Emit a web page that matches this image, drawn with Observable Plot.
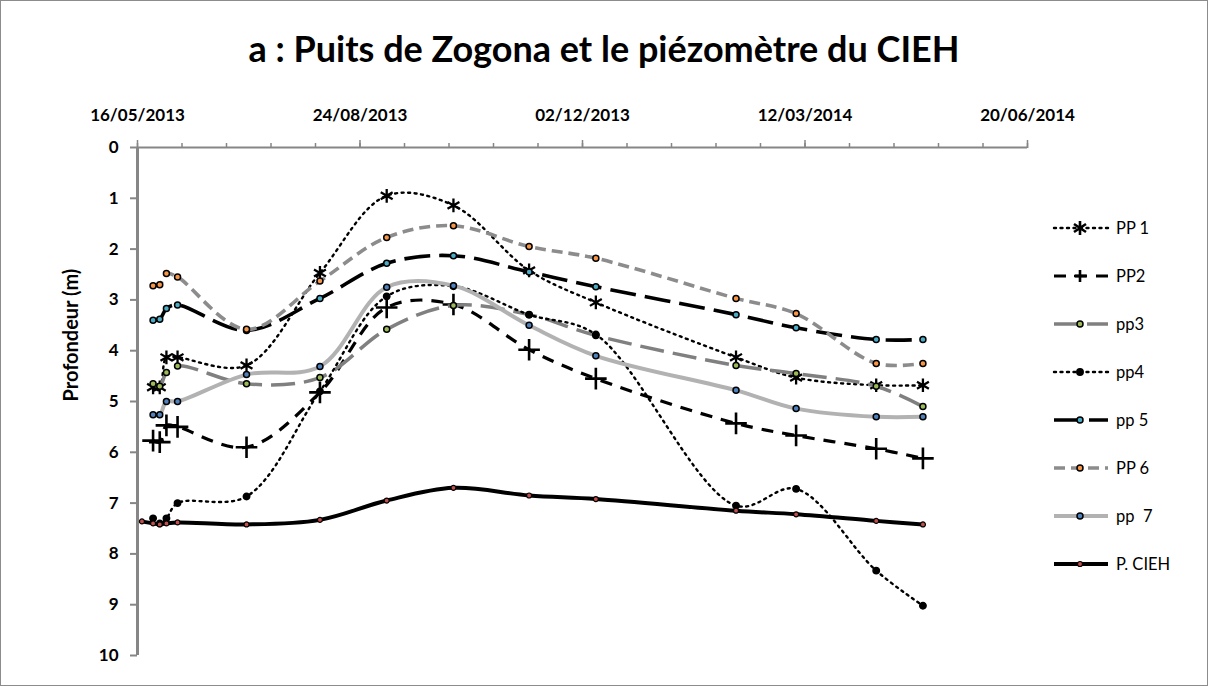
<!DOCTYPE html>
<html><head><meta charset="utf-8">
<script src="https://cdn.jsdelivr.net/npm/d3@7"></script>
<script src="https://cdn.jsdelivr.net/npm/@observablehq/plot@0.6"></script>
<style>
body{margin:0;background:#fff;font-family:Lato,"Open Sans",sans-serif;}
#frame{position:relative;width:1206px;height:684px;border:1px solid #8c8c8c;overflow:hidden;background:#fff;}
#title{height:94px;display:flex;align-items:center;justify-content:center;font-size:36px;font-weight:bold;color:#000;}
#legend{position:absolute;left:0;top:0;}
.lg{position:absolute;display:flex;align-items:center;font-size:16.5px;color:#000;}
.lg svg{margin-right:6px;}
</style></head>
<body>
<div id="frame">
  <div id="title">a : Puits de Zogona et le piézomètre du CIEH</div>
  <div id="chart"></div>
  <div id="legend"></div>
</div>
<script>
// ---- data ----
const dates = ["18/05/2013","23/05/2013","26/05/2013","29/05/2013","03/06/2013","04/07/2013","06/08/2013","05/09/2013","05/10/2013","08/11/2013","08/12/2013","09/02/2014","08/03/2014","13/04/2014","04/05/2014"];
const PP1  = [null,4.72,4.72,4.13,4.13,4.29,2.47,0.95,1.14,2.42,3.05,4.13,4.53,4.68,4.68];
const PP2  = [null,5.77,5.80,5.47,5.50,5.90,4.82,3.15,3.09,3.98,4.55,5.43,5.67,5.93,6.12];
const pp3  = [null,4.65,4.70,4.43,4.30,4.65,4.53,3.58,3.11,3.29,3.70,4.29,4.45,4.70,5.10];
const pp4  = [null,7.30,7.40,7.30,7.00,6.87,4.80,2.93,2.73,3.29,3.68,7.05,6.72,8.33,9.02];
const pp5  = [null,3.40,3.38,3.17,3.10,3.60,2.97,2.28,2.13,2.45,2.74,3.29,3.55,3.78,3.78];
const PP6  = [null,2.72,2.70,2.48,2.55,3.58,2.63,1.77,1.54,1.95,2.18,2.97,3.27,4.25,4.25];
const pp7  = [null,5.26,5.26,5.00,5.00,4.47,4.31,2.75,2.72,3.50,4.10,4.78,5.14,5.30,5.30];
const CIEH = [7.36,7.40,7.42,7.40,7.38,7.42,7.33,6.95,6.70,6.85,6.92,7.15,7.22,7.35,7.42];
const seriesNames = ["PP 1","PP2","pp3","pp4","pp 5","PP 6","pp  7","P. CIEH"];
const seriesValues = [PP1,PP2,pp3,pp4,pp5,PP6,pp7,CIEH];
const xTickLabels = ["16/05/2013","24/08/2013","02/12/2013","12/03/2014","20/06/2014"];
const yTicks = [0,1,2,3,4,5,6,7,8,9,10];

// ---- styles ----
const styles = [
  {stroke:"#000", width:2.4, dash:"2,4.5", cap:"round", sym:"asterisk", r:6.5, sw:2.3, fill:"none"},
  {stroke:"#000", width:3.2, dash:"12,9", cap:"butt", sym:"plus", r:7, sw:2.6, fill:"none"},
  {stroke:"#808080", width:3.5, dash:"24,9", cap:"butt", sym:"circle", r:3, sw:1.5, fill:"#9bbb59"},
  {stroke:"#000", width:2.4, dash:"2,4.5", cap:"round", sym:"circle", r:3.2, sw:1.5, fill:"#000"},
  {stroke:"#000", width:3.6, dash:"26,9", cap:"butt", sym:"circle", r:3, sw:1.5, fill:"#4bacc6"},
  {stroke:"#8c8c8c", width:3.6, dash:"11,6", cap:"butt", sym:"circle", r:3, sw:1.5, fill:"#f79646"},
  {stroke:"#b2b2b2", width:4, dash:null, cap:"butt", sym:"circle", r:3, sw:1.5, fill:"#4f81bd"},
  {stroke:"#000", width:4, dash:null, cap:"butt", sym:"circle", r:2.5, sw:1.2, fill:"#c0504d"}
];

const parse = d3.utcParse("%d/%m/%Y");
const rows = [];
seriesValues.forEach((vals, s) => vals.forEach((v, i) => {
  if (v != null) rows.push({series: seriesNames[s], date: parse(dates[i]), value: v});
}));
const start = parse(xTickLabels[0]);
const end = parse(xTickLabels[xTickLabels.length - 1]);
const majorTicks = xTickLabels.map(parse);
const minorTicks = d3.range(0, 401, 20).map(d => d3.utcDay.offset(start, d));
const labelFor = new Map(majorTicks.map((d, i) => [+d, xTickLabels[i]]));

const gray = "#868686";
const marks = [
  Plot.ruleY([0], {stroke: gray, strokeWidth: 2}),
  Plot.ruleX([start], {stroke: gray, strokeWidth: 3}),
  Plot.axisX({anchor: "top", ticks: minorTicks, tickSize: 5, tickFormat: () => "", stroke: gray, strokeWidth: 1.5, label: null}),
  Plot.axisX({anchor: "top", ticks: majorTicks, tickSize: 8, tickPadding: 19, tickFormat: d => labelFor.get(+d), stroke: gray, strokeWidth: 1.5, fill: "#000", fontWeight: "bold", fontSize: 17, label: null}),
  Plot.axisY({ticks: yTicks, tickSize: 7, tickPadding: 12, stroke: gray, strokeWidth: 2, fill: "#000", fontWeight: "bold", fontSize: 17, label: null}),
  Plot.text(["Profondeur (m)"], {frameAnchor: "left", rotate: -90, dx: -66, fontWeight: "bold", fontSize: 20, fill: "#000"})
];
seriesNames.forEach((name, s) => {
  const st = styles[s];
  const data = rows.filter(r => r.series === name);
  marks.push(Plot.line(data, {x: "date", y: "value", curve: "catmull-rom", stroke: st.stroke, strokeWidth: st.width, strokeDasharray: st.dash, strokeLinecap: st.cap}));
  marks.push(Plot.dot(data, {x: "date", y: "value", symbol: () => st.sym, r: st.r, stroke: "#000", strokeWidth: st.sw, fill: st.fill}));
});

const chart = Plot.plot({
  width: 1206, height: 590,
  marginLeft: 136, marginRight: 180, marginTop: 52, marginBottom: 30,
  style: {fontFamily: "Lato, 'Open Sans', sans-serif", background: "#fff", overflow: "visible"},
  x: {type: "utc", domain: [start, end]},
  y: {domain: [0, 10], reverse: true},
  marks
});
document.getElementById("chart").appendChild(chart);

// ---- legend ----
const legend = document.getElementById("legend");
seriesNames.forEach((name, s) => {
  const st = styles[s];
  const cy = 227 + s * 48;
  const div = document.createElement("div");
  div.className = "lg";
  div.style.left = "1051px";
  div.style.top = (cy - 10) + "px";
  div.style.height = "20px";
  let marker = "";
  if (st.sym === "asterisk") marker = `<path d="M28 3v14M22 6l12 8M22 14l12-8" stroke="#000" stroke-width="2.6"/>`;
  else if (st.sym === "plus") marker = `<path d="M28 4v12M22 10h12" stroke="#000" stroke-width="2.6"/>`;
  else marker = `<circle cx="28" cy="10" r="${st.r}" fill="${st.fill}" stroke="#000" stroke-width="${st.sw}"/>`;
  div.innerHTML = `<svg width="58" height="20"><line x1="2" y1="10" x2="56" y2="10" stroke="${st.stroke}" stroke-width="${st.width}" ${st.dash ? `stroke-dasharray="${st.dash}"` : ""} stroke-linecap="${st.cap}"/>${marker}</svg><span>${name.replace(/ /g, "&nbsp;")}</span>`;
  legend.appendChild(div);
});
</script>
</body></html>
